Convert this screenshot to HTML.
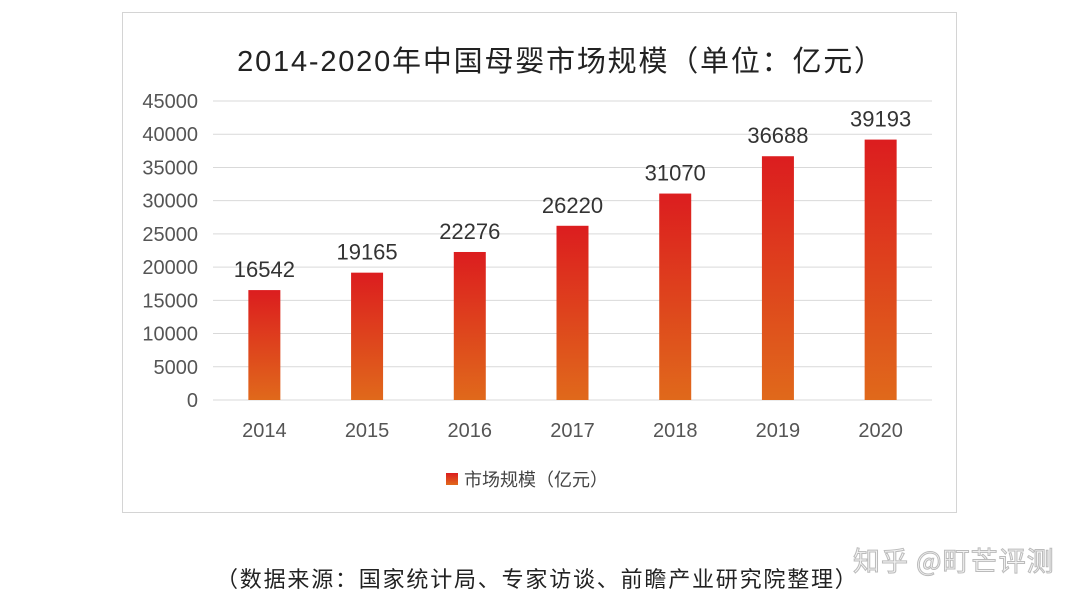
<!DOCTYPE html>
<html><head><meta charset="utf-8">
<style>
body{margin:0;width:1080px;height:604px;background:#fff;overflow:hidden;position:relative;font-family:"Liberation Sans","Noto Sans CJK SC",sans-serif}
#frame{position:absolute;left:122px;top:12px;width:835px;height:501px;border:1px solid #d4d4d4;box-sizing:border-box}
#caption{position:absolute;left:216px;top:562px;font-size:22px;letter-spacing:1.8px;color:#222;font-family:"Noto Sans CJK SC",sans-serif;white-space:nowrap}
#zh{position:absolute;left:853px;top:540px;font-size:27px;color:#f4f4f4;-webkit-text-stroke:1px #bbb;font-family:"Noto Sans CJK SC",sans-serif;letter-spacing:1px}
</style></head><body>
<div id="frame"></div>
<svg id="chart" width="1080" height="604" style="position:absolute;left:0;top:0">
<defs><linearGradient id="g" x1="0" y1="0" x2="0" y2="1"><stop offset="0" stop-color="#dc1d1f"/><stop offset="1" stop-color="#e0691b"/></linearGradient></defs>
<text x="561" y="71" text-anchor="middle" font-size="29" letter-spacing="1.8" fill="#222" font-family="Liberation Sans,Noto Sans CJK SC,sans-serif">2014-2020年中国母婴市场规模（单位：亿元）</text>
<g id="grid"></g><g id="bars"></g><g id="labels"></g>
<rect x="446" y="473" width="12" height="12" fill="url(#g)"/>
<text x="464" y="486" font-size="18" fill="#444" font-family="Noto Sans CJK SC,sans-serif">市场规模（亿元）</text>
</svg>
<div id="caption">（数据来源：国家统计局、专家访谈、前瞻产业研究院整理）</div>
<div id="zh">知乎 @町芒评测</div>
<script>
const categories=["2014","2015","2016","2017","2018","2019","2020"];
const values=[16542,19165,22276,26220,31070,36688,39193];
const ticks=[0,5000,10000,15000,20000,25000,30000,35000,40000,45000];
const NS="http://www.w3.org/2000/svg";
const x0=213,x1=932,yb=400,yt=101,max=45000;
const y=v=>yb-(v/max)*(yb-yt);
const band=(x1-x0)/categories.length;
const xc=i=>x0+band*(i+0.5);
function mk(t,a,p){const e=document.createElementNS(NS,t);for(const k in a)e.setAttribute(k,a[k]);p.appendChild(e);return e;}
const grid=document.getElementById('grid'),bars=document.getElementById('bars'),labels=document.getElementById('labels');
ticks.forEach(t=>{
  const l=mk('line',{x1:x0,x2:x1,y1:y(t),y2:y(t),stroke:'#d9d9d9','stroke-width':1},grid);
  
  
  const tx=mk('text',{x:198,y:y(t)+7,'text-anchor':'end','font-size':20,fill:'#555'},labels);
  tx.textContent=t;
  
  
});
const bw=32;
categories.forEach((c,i)=>{
  const r=mk('rect',{x:xc(i)-bw/2,y:y(values[i]),width:bw,height:yb-y(values[i]),fill:'url(#g)'},bars);
  
  
  const v=mk('text',{x:xc(i),y:y(values[i])-13,'text-anchor':'middle','font-size':22,fill:'#333'},labels);
  v.textContent=values[i];
  
  
  const xl=mk('text',{x:xc(i),y:437,'text-anchor':'middle','font-size':20,fill:'#555'},labels);
  xl.textContent=c;
  
  
});
</script>
</body></html>
